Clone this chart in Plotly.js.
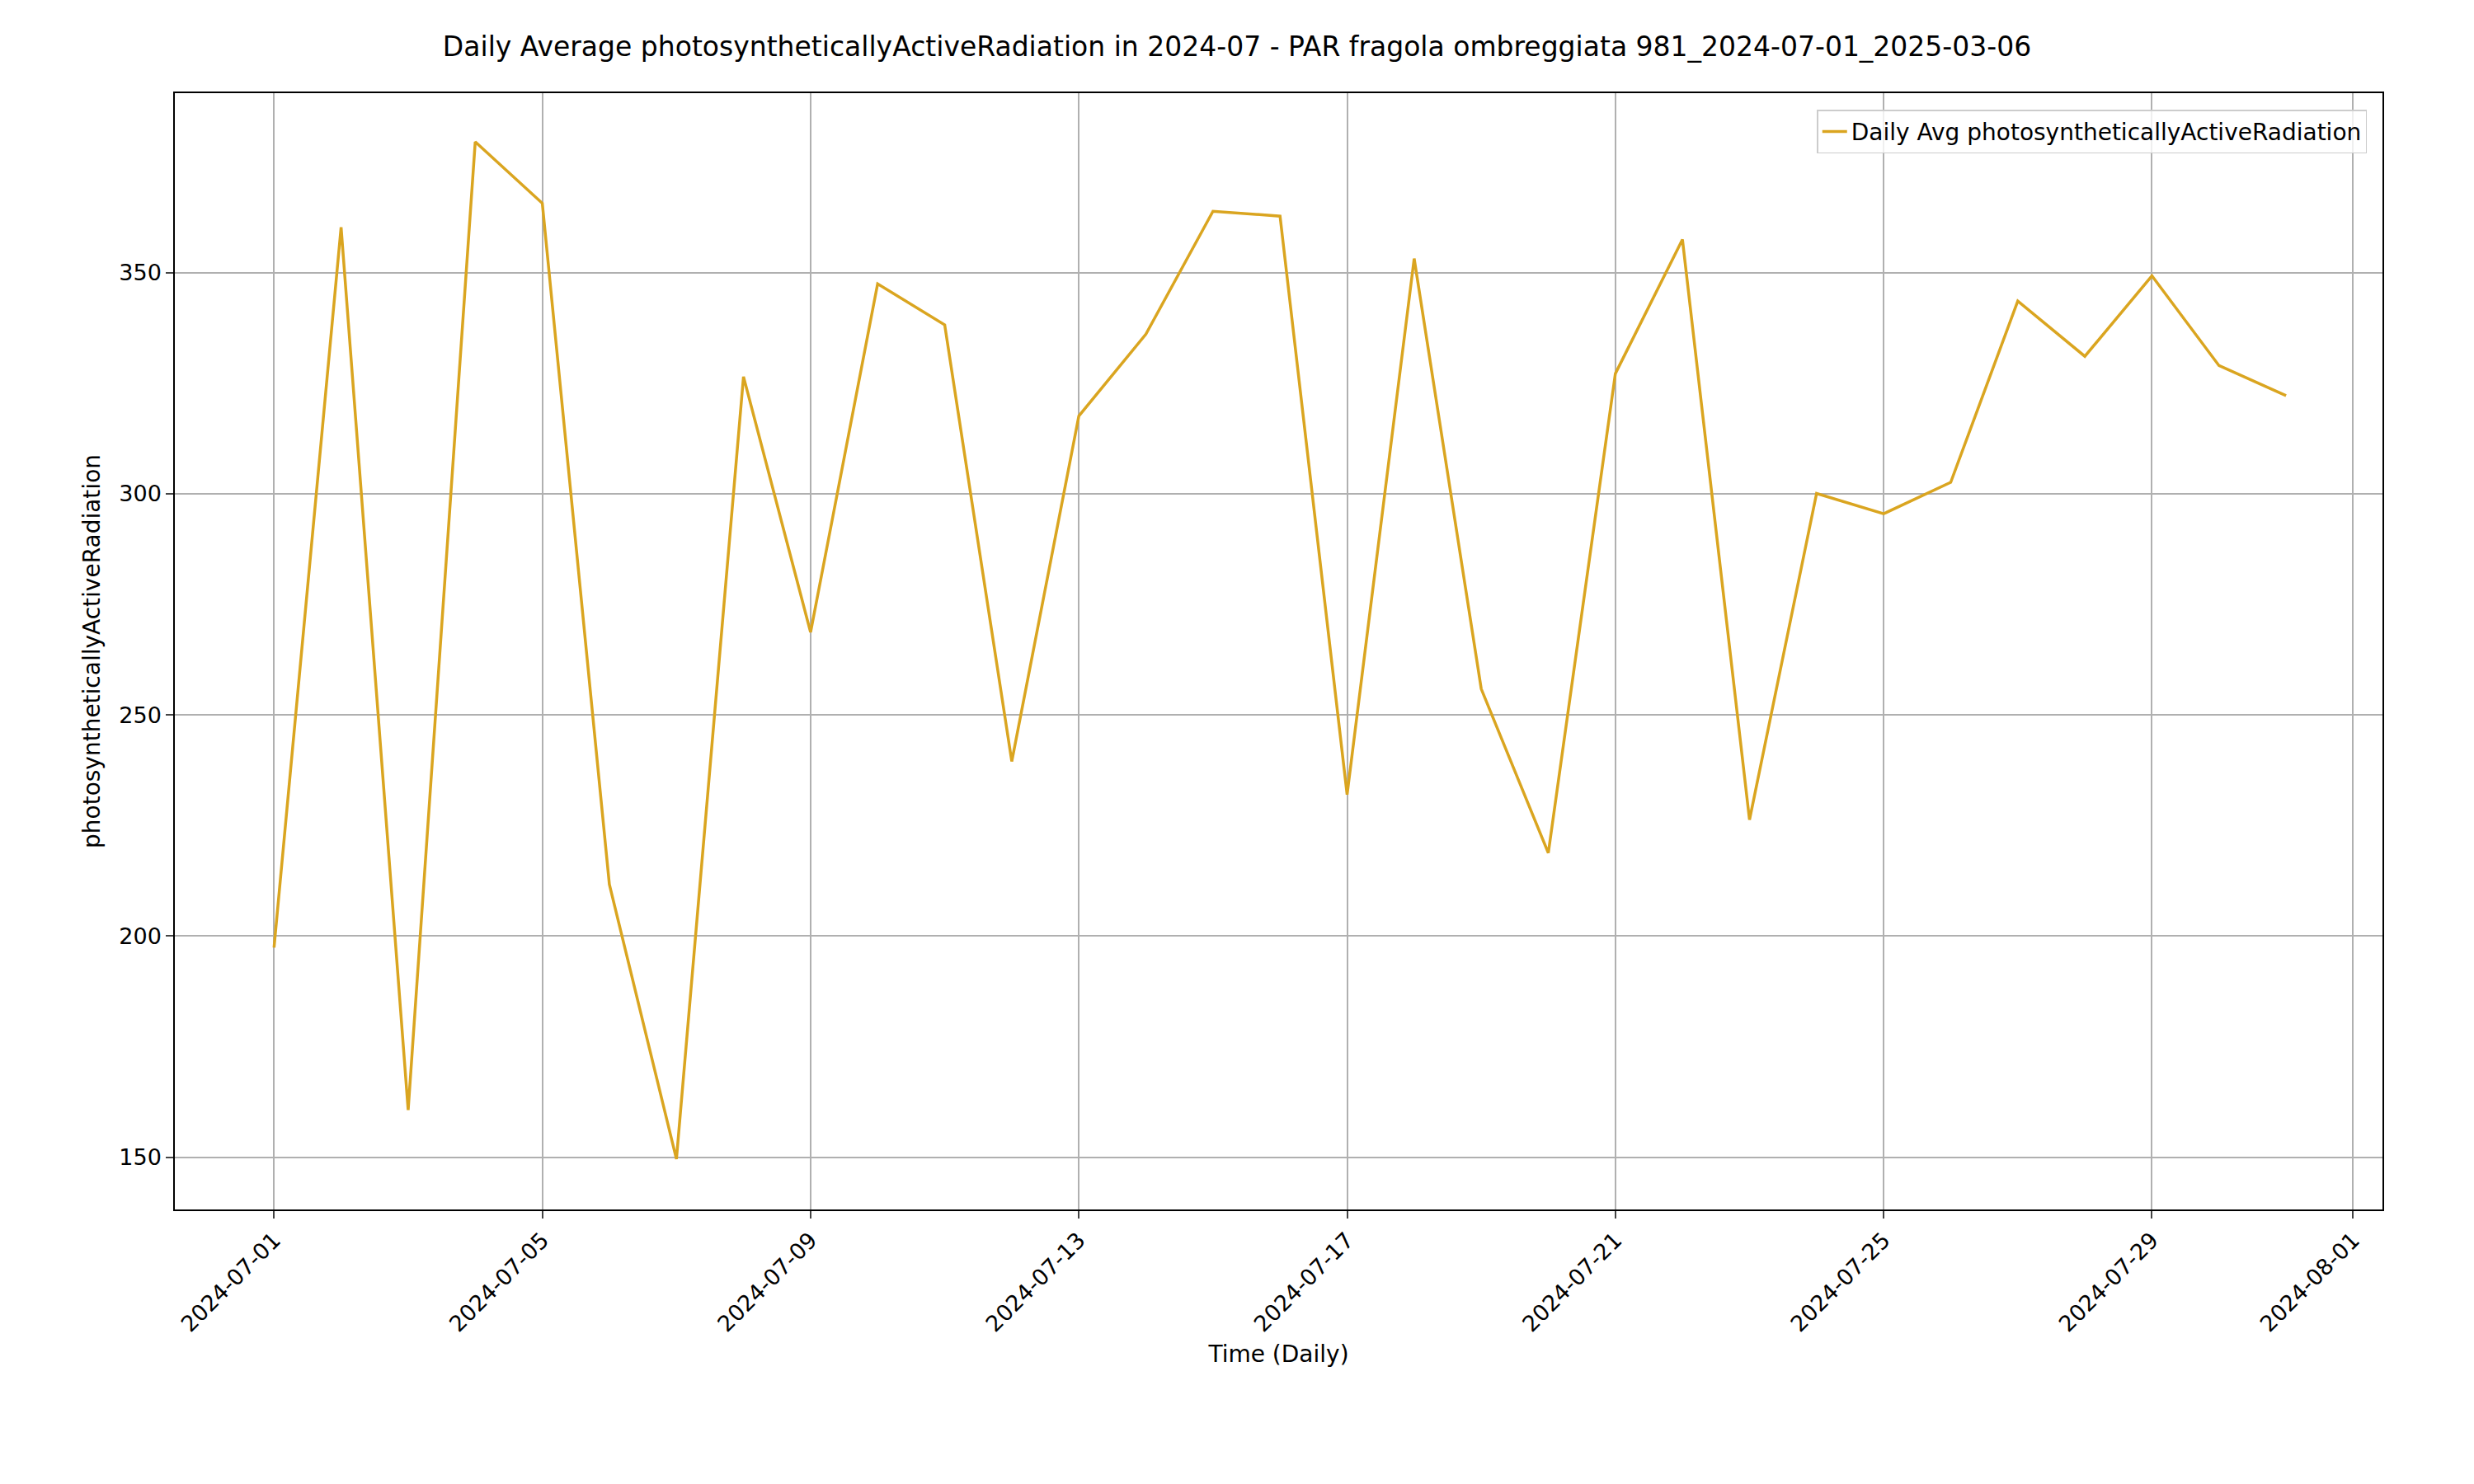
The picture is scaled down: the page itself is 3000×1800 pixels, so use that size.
<!DOCTYPE html>
<html><head><meta charset="utf-8">
<script src="https://cdn.plot.ly/plotly-3.0.1.min.js"></script>
<style>body{margin:0}#plot{width:3000px;height:1800px}</style>
</head><body><div id="plot"></div>
<script>
var dates = [];
for (var d = 1; d <= 31; d++) dates.push('2024-07-' + (d < 10 ? '0' + d : d));
var parAvg = [197.4, 360.3, 160.7, 379.6, 365.7, 211.7, 149.6, 326.5, 268.7, 347.5,
  338.2, 239.5, 317.6, 336.1, 363.9, 362.8, 232.0, 353.2, 255.9, 218.8,
  327.2, 357.5, 226.3, 300.1, 295.5, 302.6, 343.6, 331.1, 349.3, 329.0, 322.2];
var tickDates = ['2024-07-01','2024-07-05','2024-07-09','2024-07-13','2024-07-17',
  '2024-07-21','2024-07-25','2024-07-29','2024-08-01'];

var trace = {
  x: dates, y: parAvg, mode: 'lines', type: 'scatter',
  name: 'Daily Avg photosyntheticallyActiveRadiation',
  line: {color: '#DAA520', width: 3.5}
};
var layout = {
  font: {family: 'DejaVu Sans', size: 27, color: '#000'},
  paper_bgcolor: '#fff', plot_bgcolor: '#fff',
  margin: {l: 212, r: 111, t: 113, b: 333},
  title: {text: 'Daily Average photosyntheticallyActiveRadiation in 2024-07 - PAR fragola ombreggiata 981_2024-07-01_2025-03-06',
    font: {size: 33}, x: 0.5, xanchor: 'center', y: 0.975, yanchor: 'top'},
  xaxis: {type: 'date', range: ['2024-06-29 12:30', '2024-08-01 10:30'],
    tickvals: tickDates, ticktext: tickDates, tickangle: -45,
    showgrid: true, gridcolor: '#b0b0b0', gridwidth: 1.5,
    showline: true, mirror: true, linecolor: '#000', linewidth: 1.5,
    ticks: 'outside', ticklen: 9, tickwidth: 1.5, zeroline: false,
    title: {text: 'Time (Daily)', font: {size: 28}, standoff: 12}},
  yaxis: {range: [138.2, 390.6], tickvals: [150, 200, 250, 300, 350],
    showgrid: true, gridcolor: '#b0b0b0', gridwidth: 1.5,
    showline: true, mirror: true, linecolor: '#000', linewidth: 1.5,
    ticks: 'outside', ticklen: 9, tickwidth: 1.5, zeroline: false,
    title: {text: 'photosyntheticallyActiveRadiation', font: {size: 28}, standoff: 15}},
  showlegend: true,
  legend: {x: 0.993, y: 0.985, xanchor: 'right', yanchor: 'top',
    bgcolor: 'rgba(255,255,255,0.8)', bordercolor: '#ccc', borderwidth: 1.5,
    font: {size: 28}}
};
Plotly.newPlot('plot', [trace], layout, {displayModeBar: false});
</script></body></html>
